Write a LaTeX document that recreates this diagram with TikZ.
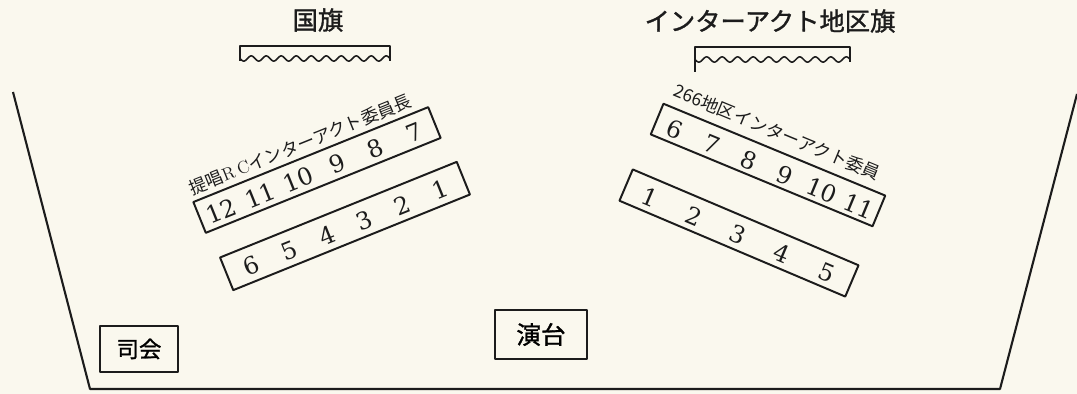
\documentclass[tikz,border=0pt]{standalone}
\usepackage{fontspec}
\newfontfamily\cjk{Noto Sans CJK JP}
\newfontfamily\cjkb{Noto Sans CJK JP}[FakeBold=1.2]
\newfontfamily\digitfont{DejaVu Serif}
\definecolor{paper}{RGB}{250,248,238}
\definecolor{ink}{RGB}{28,28,28}
\begin{document}
\begin{tikzpicture}[x=0.025cm,y=-0.025cm, line join=round,
  frame/.style={draw=ink, line width=1.5pt},
  seatbox/.style={draw=ink, line width=1.4pt, inner sep=0pt},
  digit/.style={font=\digitfont\fontsize{17}{17}\selectfont, text=ink, inner sep=0pt},
  rowlabel/.style={font=\cjk\fontsize{12.5}{12.5}\selectfont, text=ink, inner sep=0pt},
  title/.style={font=\cjkb\fontsize{18}{18}\selectfont, text=ink, inner sep=0pt},
  placebox/.style={draw=ink, line width=1.3pt, inner sep=0pt},
  flagline/.style={draw=ink, line width=1.1pt},
]
\fill[paper] (0,0) rectangle (1077,394);
\useasboundingbox (0,0) rectangle (1077,394);

% hall outline
\draw[frame] (13,92) -- (90,389) -- (1000,389) -- (1077,94);

% titles
\node[title] (kokki) at (318,20) {国旗};
\node[title] (chikuki) at (770,21) {インターアクト地区旗};

% national flag
\draw[flagline] (240,61) -- (240,46) -- (390,46) -- (390,61);
\draw[ink, line width=2pt] (240,46) -- (390,46);
\draw[flagline, line width=1.1pt] plot[domain=240:390, samples=200] (\x, {58.5 + 2.6*sin((\x-240)*24)});
% district flag
\draw[flagline] (695,72) -- (695,47) -- (850,47) -- (850,62);
\draw[ink, line width=2pt] (695,47) -- (850,47);
\draw[flagline, line width=1.1pt] plot[domain=695:850, samples=200] (\x, {59.5 + 2.6*sin((\x-695)*23.2)});

% left rows
\begin{scope}[shift={(317,170)}, rotate=22, transform shape]
  \node[seatbox, minimum width=6.33cm, minimum height=0.83cm] (rowA) at (0,0) {};
  \foreach \n [count=\i] in {12,11,10,9,8,7}
    \node[digit] (a\n) at ({(\i-3.5)*41.6}, 2) {\n};
  \node[rowlabel] (labA) at (-6,-30) {提唱{\rmfamily R\hspace{0.2em}C}インターアクト委員長};
\end{scope}
\begin{scope}[shift={(345,226)}, rotate=22, transform shape]
  \node[seatbox, minimum width=6.38cm, minimum height=0.88cm] (rowB) at (0,0) {};
  \foreach \n [count=\i] in {6,5,4,3,2,1}
    \node[digit] (b\n) at ({(\i-3.5)*40.6}, 2) {\n};
\end{scope}

% right rows
\begin{scope}[shift={(768,165)}, rotate=-22.5, transform shape]
  \node[seatbox, minimum width=6.0cm, minimum height=0.83cm] (rowC) at (0,0) {};
  \foreach \n [count=\i] in {6,7,8,9,10,11}
    \node[digit] (c\n) at ({(\i-3.5)*40}, 3) {\n};
  \node[rowlabel] (labC) at (-4,-34) {266地区インターアクト委員};
\end{scope}
\begin{scope}[shift={(739,233)}, rotate=-23, transform shape]
  \node[seatbox, minimum width=6.13cm, minimum height=0.85cm] (rowD) at (0,0) {};
  \foreach \n [count=\i] in {1,2,3,4,5}
    \node[digit] (d\n) at ({(\i-3)*48}, 2) {\n};
\end{scope}

% bottom boxes
\node[placebox, minimum width=1.95cm, minimum height=1.15cm, font=\cjkb\fontsize{16}{16}\selectfont] (shikai) at (139,349) {司会};
\node[placebox, minimum width=2.3cm, minimum height=1.22cm, font=\cjkb\fontsize{17.5}{17.5}\selectfont] (endai) at (541,334.5) {演台};
\end{tikzpicture}
\end{document}
